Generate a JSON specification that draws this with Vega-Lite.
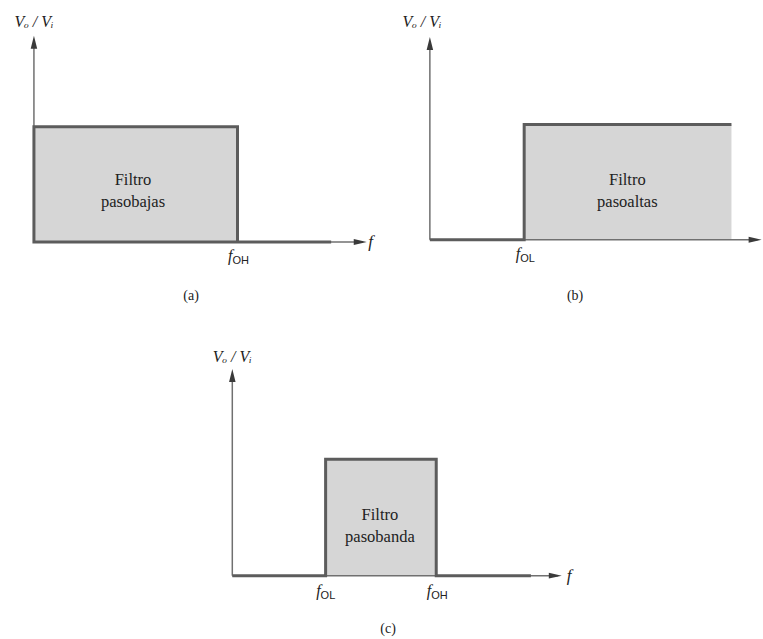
{
  "$schema": "https://vega.github.io/schema/vega-lite/v6.json",
  "padding": 0,
  "spacing": 0,
  "config": {"view": {"stroke": null}, "text": {"font": "Liberation Serif", "color": "#222222"}},
  "resolve": {"scale": {"x": "independent", "y": "independent"}},
  "vconcat": [
    {
      "spacing": 0,
      "resolve": {"scale": {"x": "independent", "y": "independent"}},
      "hconcat": [
        {
          "width": 380, "height": 310,
          "encoding": {
            "x": {"field": "f", "type": "quantitative", "scale": {"domain": [-1, 10.2], "nice": false, "zero": false}, "axis": null},
            "y": {"field": "g", "type": "quantitative", "scale": {"domain": [-0.59, 2.1], "nice": false, "zero": false}, "axis": null}
          },
          "layer": [
            {"data": {"values": [{"f": 0, "f2": 6, "g": 0, "g2": 1}]}, "mark": {"type": "rect", "fill": "#d6d6d6"}, "encoding": {"x2": {"field": "f2"}, "y2": {"field": "g2"}}},
            {"data": {"values": [{"f": 0, "g": 0, "f2": 9.7, "g2": 0}, {"f": 0, "g": 0, "f2": 0, "g2": 1.74}]}, "mark": {"type": "rule", "color": "#707070", "strokeWidth": 1.5}, "encoding": {"x2": {"field": "f2"}, "y2": {"field": "g2"}}},
            {"data": {"values": [{"f": 8.76, "g": 0, "o": 1}, {"f": 0, "g": 0, "o": 2}, {"f": 0, "g": 1, "o": 3}, {"f": 6, "g": 1, "o": 4}, {"f": 6, "g": 0, "o": 5}]}, "mark": {"type": "line", "color": "#5c5c5c", "strokeWidth": 3, "strokeJoin": "miter"}, "encoding": {"order": {"field": "o"}}},
            {"data": {"values": [{"f": 9.81, "g": 0, "dir": "right"}, {"f": 0, "g": 1.79, "dir": "up"}]}, "mark": {"type": "point", "filled": true, "size": 169, "color": "#3a3a3a", "opacity": 1}, "encoding": {"shape": {"field": "dir", "type": "nominal", "scale": {"domain": ["right", "up"], "range": ["M-2,-0.45L0,0L-2,0.45Z", "M-0.5,2L0,0L0.5,2Z"]}, "legend": null}}},
            {"data": {"values": [{"f": 9.85, "g": 0}]}, "mark": {"type": "text", "text": "f", "font": "Liberation Serif", "fontStyle": "italic", "fontSize": 17, "align": "left", "baseline": "middle", "color": "#222222"}},
            {"data": {"values": [{"f": 6, "g": -0.165, "sub": "OH"}]}, "mark": {"type": "text", "text": "f", "font": "Liberation Serif", "fontStyle": "italic", "fontSize": 16, "align": "right", "baseline": "alphabetic", "dx": -5, "color": "#222222"}},
            {"data": {"values": [{"f": 6, "g": -0.165, "sub": "OH"}]}, "mark": {"type": "text", "font": "Liberation Sans", "fontSize": 11, "align": "left", "baseline": "alphabetic", "dx": -5, "dy": 3, "color": "#222222"}, "encoding": {"text": {"field": "sub"}}},
            {"data": {"values": [{"f": 2.92, "g": 0.538, "label": "Filtro\npasobajas"}]}, "mark": {"type": "text", "font": "Liberation Serif", "fontSize": 16.5, "lineBreak": "\n", "lineHeight": 22, "align": "center", "baseline": "middle", "color": "#222222"}, "encoding": {"text": {"field": "label"}}},
            {"data": {"values": [{"f": 0, "g": 1.91, "label": "Vₒ / Vᵢ"}]}, "mark": {"type": "text", "font": "Liberation Serif", "fontStyle": "italic", "fontSize": 16, "align": "center", "baseline": "middle", "color": "#222222"}, "encoding": {"text": {"field": "label"}}},
            {"data": {"values": [{"f": 4.63, "g": -0.47, "label": "(a)"}]}, "mark": {"type": "text", "font": "Liberation Serif", "fontSize": 14, "align": "center", "baseline": "middle", "color": "#222222"}, "encoding": {"text": {"field": "label"}}}
          ]
        },
        {
          "width": 383, "height": 310,
          "encoding": {
            "x": {"field": "f", "type": "quantitative", "scale": {"domain": [-1.47, 9.82], "nice": false, "zero": false}, "axis": null},
            "y": {"field": "g", "type": "quantitative", "scale": {"domain": [-0.61, 2.08], "nice": false, "zero": false}, "axis": null}
          },
          "layer": [
            {"data": {"values": [{"f": 2.78, "f2": 8.89, "g": 0, "g2": 1}]}, "mark": {"type": "rect", "fill": "#d6d6d6"}, "encoding": {"x2": {"field": "f2"}, "y2": {"field": "g2"}}},
            {"data": {"values": [{"f": 0, "g": 0, "f2": 9.66, "g2": 0}, {"f": 0, "g": 0, "f2": 0, "g2": 1.72}]}, "mark": {"type": "rule", "color": "#707070", "strokeWidth": 1.5}, "encoding": {"x2": {"field": "f2"}, "y2": {"field": "g2"}}},
            {"data": {"values": [{"f": 0, "g": 0, "o": 1}, {"f": 2.78, "g": 0, "o": 2}, {"f": 2.78, "g": 1, "o": 3}, {"f": 8.89, "g": 1, "o": 4}]}, "mark": {"type": "line", "color": "#5c5c5c", "strokeWidth": 3, "strokeJoin": "miter"}, "encoding": {"order": {"field": "o"}}},
            {"data": {"values": [{"f": 9.78, "g": 0, "dir": "right"}, {"f": 0, "g": 1.76, "dir": "up"}]}, "mark": {"type": "point", "filled": true, "size": 169, "color": "#3a3a3a", "opacity": 1}, "encoding": {"shape": {"field": "dir", "type": "nominal", "scale": {"domain": ["right", "up"], "range": ["M-2,-0.45L0,0L-2,0.45Z", "M-0.5,2L0,0L0.5,2Z"]}, "legend": null}}},
            {"data": {"values": [{"f": 2.78, "g": -0.17, "sub": "OL"}]}, "mark": {"type": "text", "text": "f", "font": "Liberation Serif", "fontStyle": "italic", "fontSize": 16, "align": "right", "baseline": "alphabetic", "dx": -4, "color": "#222222"}},
            {"data": {"values": [{"f": 2.78, "g": -0.17, "sub": "OL"}]}, "mark": {"type": "text", "font": "Liberation Sans", "fontSize": 11, "align": "left", "baseline": "alphabetic", "dx": -4, "dy": 3, "color": "#222222"}, "encoding": {"text": {"field": "sub"}}},
            {"data": {"values": [{"f": 5.82, "g": 0.518, "label": "Filtro\npasoaltas"}]}, "mark": {"type": "text", "font": "Liberation Serif", "fontSize": 16.5, "lineBreak": "\n", "lineHeight": 22, "align": "center", "baseline": "middle", "color": "#222222"}, "encoding": {"text": {"field": "label"}}},
            {"data": {"values": [{"f": -0.23, "g": 1.89, "label": "Vₒ / Vᵢ"}]}, "mark": {"type": "text", "font": "Liberation Serif", "fontStyle": "italic", "fontSize": 16, "align": "center", "baseline": "middle", "color": "#222222"}, "encoding": {"text": {"field": "label"}}},
            {"data": {"values": [{"f": 4.28, "g": -0.49, "label": "(b)"}]}, "mark": {"type": "text", "font": "Liberation Serif", "fontSize": 14, "align": "center", "baseline": "middle", "color": "#222222"}, "encoding": {"text": {"field": "label"}}}
          ]
        }
      ]
    },
    {
      "width": 763, "height": 329,
      "encoding": {
        "x": {"field": "f", "type": "quantitative", "scale": {"domain": [-6.846, 15.64], "nice": false, "zero": false}, "axis": null},
        "y": {"field": "g", "type": "quantitative", "scale": {"domain": [-0.544, 2.283], "nice": false, "zero": false}, "axis": null}
      },
      "layer": [
        {"data": {"values": [{"f": 2.75, "f2": 6.01, "g": 0, "g2": 1}]}, "mark": {"type": "rect", "fill": "#d6d6d6"}, "encoding": {"x2": {"field": "f2"}, "y2": {"field": "g2"}}},
        {"data": {"values": [{"f": 0, "g": 0, "f2": 9.6, "g2": 0}, {"f": 0, "g": 0, "f2": 0, "g2": 1.72}]}, "mark": {"type": "rule", "color": "#707070", "strokeWidth": 1.5}, "encoding": {"x2": {"field": "f2"}, "y2": {"field": "g2"}}},
        {"data": {"values": [{"f": 0, "g": 0, "o": 1}, {"f": 2.75, "g": 0, "o": 2}, {"f": 2.75, "g": 1, "o": 3}, {"f": 6.01, "g": 1, "o": 4}, {"f": 6.01, "g": 0, "o": 5}, {"f": 8.8, "g": 0, "o": 6}]}, "mark": {"type": "line", "color": "#5c5c5c", "strokeWidth": 3, "strokeJoin": "miter"}, "encoding": {"order": {"field": "o"}}},
        {"data": {"values": [{"f": 9.71, "g": 0, "dir": "right"}, {"f": 0, "g": 1.776, "dir": "up"}]}, "mark": {"type": "point", "filled": true, "size": 169, "color": "#3a3a3a", "opacity": 1}, "encoding": {"shape": {"field": "dir", "type": "nominal", "scale": {"domain": ["right", "up"], "range": ["M-2,-0.45L0,0L-2,0.45Z", "M-0.5,2L0,0L0.5,2Z"]}, "legend": null}}},
        {"data": {"values": [{"f": 9.86, "g": 0}]}, "mark": {"type": "text", "text": "f", "font": "Liberation Serif", "fontStyle": "italic", "fontSize": 17, "align": "left", "baseline": "middle", "color": "#222222"}},
        {"data": {"values": [{"f": 2.75, "g": -0.174, "sub": "OL"}, {"f": 6.01, "g": -0.174, "sub": "OH"}]}, "mark": {"type": "text", "text": "f", "font": "Liberation Serif", "fontStyle": "italic", "fontSize": 16, "align": "right", "baseline": "alphabetic", "dx": -5, "color": "#222222"}},
        {"data": {"values": [{"f": 2.75, "g": -0.174, "sub": "OL"}, {"f": 6.01, "g": -0.174, "sub": "OH"}]}, "mark": {"type": "text", "font": "Liberation Sans", "fontSize": 11, "align": "left", "baseline": "alphabetic", "dx": -5, "dy": 3, "color": "#222222"}, "encoding": {"text": {"field": "sub"}}},
        {"data": {"values": [{"f": 4.35, "g": 0.52, "label": "Filtro\npasobanda"}]}, "mark": {"type": "text", "font": "Liberation Serif", "fontSize": 16.5, "lineBreak": "\n", "lineHeight": 22, "align": "center", "baseline": "middle", "color": "#222222"}, "encoding": {"text": {"field": "label"}}},
        {"data": {"values": [{"f": 0, "g": 1.88, "label": "Vₒ / Vᵢ"}]}, "mark": {"type": "text", "font": "Liberation Serif", "fontStyle": "italic", "fontSize": 16, "align": "center", "baseline": "middle", "color": "#222222"}, "encoding": {"text": {"field": "label"}}},
        {"data": {"values": [{"f": 4.59, "g": -0.46, "label": "(c)"}]}, "mark": {"type": "text", "font": "Liberation Serif", "fontSize": 14, "align": "center", "baseline": "middle", "color": "#222222"}, "encoding": {"text": {"field": "label"}}}
      ]
    }
  ]
}
